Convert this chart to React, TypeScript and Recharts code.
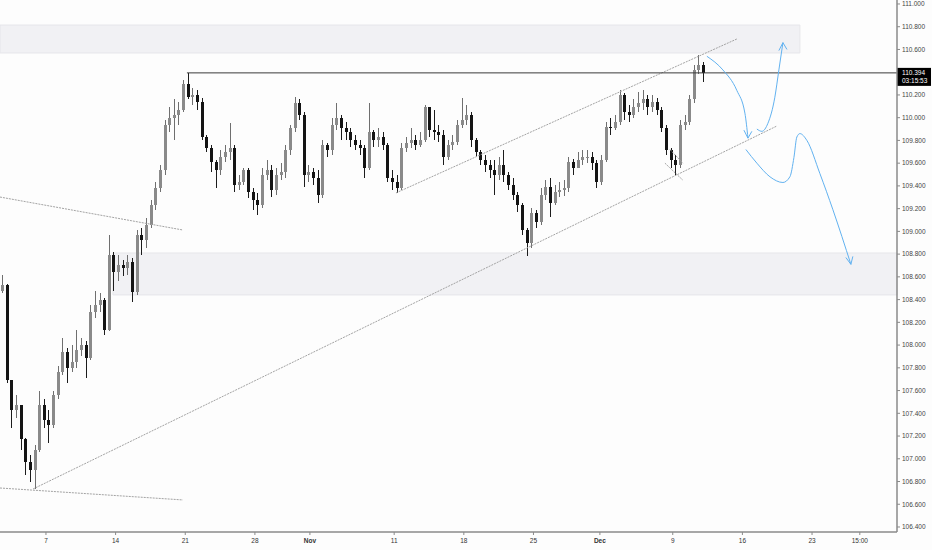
import React from 'react';
import {
  ComposedChart,
  Bar,
  Line,
  XAxis,
  YAxis,
  ReferenceArea,
  ReferenceLine,
} from 'recharts';

// x axis is counted in trading days from Oct 7, three candles per day
const FIRST_DAY = -3.15;
const BARS_PER_DAY = 3;
const FIRST_OPEN = 108.48;

const highs = [
  108.62, 108.54, 107.69, 107.56, 107.47, 107.18, 107.03, 107.12, 107.6, 107.53,
  107.43, 107.6, 107.82, 108.06, 107.97, 108.0, 108.13, 108.06, 108.04, 108.35,
  108.48, 108.46, 108.41, 108.97, 108.82, 108.79, 108.75, 108.79, 108.77, 109.01,
  109.03, 109.12, 109.28, 109.43, 109.58, 109.98, 110.09, 110.16, 110.14, 110.33,
  110.39, 110.26, 110.24, 110.17, 109.85, 109.76, 109.63, 109.72, 109.76, 109.95,
  109.76, 109.5, 109.56, 109.56, 109.38, 109.34, 109.56, 109.63, 109.58, 109.56,
  109.6, 109.76, 109.94, 110.18, 110.16, 110.05, 109.58, 109.56, 109.54, 109.8,
  109.78, 110.0, 110.13, 110.02, 109.96, 109.91, 109.85, 109.8, 109.76, 110.13,
  109.89, 109.91, 109.87, 109.78, 109.54, 109.5, 109.78, 109.83, 109.91, 109.85,
  109.87, 110.11, 110.09, 110.07, 109.94, 109.89, 109.8, 109.85, 109.98, 110.17,
  110.11, 110.05, 109.82, 109.72, 109.67, 109.63, 109.63, 109.65, 109.72, 109.52,
  109.47, 109.35, 109.25, 109.03, 109.21, 109.19, 109.38, 109.45, 109.47, 109.41,
  109.43, 109.45, 109.65, 109.64, 109.7, 109.72, 109.72, 109.7, 109.63, 109.67,
  109.96, 110.0, 110.02, 110.24, 110.22, 110.11, 110.16, 110.23, 110.24, 110.2,
  110.2, 110.17, 110.09, 109.94, 109.73, 109.67, 109.98, 110.02, 110.2, 110.46,
  110.55, 110.49,
];

const lows = [
  108.46, 107.67, 107.27, 107.36, 107.08, 106.86, 106.8, 106.73, 107.06, 107.27,
  107.14, 107.27, 107.53, 107.74, 107.67, 107.76, 107.8, 107.9, 107.71, 107.87,
  108.24, 108.29, 108.09, 108.12, 108.48, 108.56, 108.61, 108.62, 108.38, 108.44,
  108.79, 108.85, 109.03, 109.19, 109.35, 109.5, 109.87, 109.8, 109.94, 110.05,
  110.16, 110.11, 110.07, 109.8, 109.7, 109.52, 109.38, 109.5, 109.61, 109.63,
  109.35, 109.36, 109.41, 109.29, 109.19, 109.14, 109.21, 109.45, 109.3, 109.32,
  109.45, 109.47, 109.67, 109.87, 109.98, 109.39, 109.43, 109.41, 109.25, 109.29,
  109.65, 109.67, 109.89, 109.8, 109.8, 109.74, 109.72, 109.67, 109.47, 109.54,
  109.74, 109.74, 109.72, 109.43, 109.36, 109.34, 109.36, 109.7, 109.73, 109.72,
  109.74, 109.79, 109.83, 109.8, 109.79, 109.58, 109.63, 109.72, 109.76, 109.91,
  109.94, 109.74, 109.65, 109.58, 109.52, 109.47, 109.32, 109.45, 109.43, 109.36,
  109.28, 109.17, 108.97, 108.78, 108.85, 109.03, 109.06, 109.28, 109.13, 109.23,
  109.3, 109.31, 109.35, 109.5, 109.56, 109.58, 109.6, 109.54, 109.38, 109.41,
  109.61, 109.85, 109.89, 109.94, 109.98, 109.96, 110.0, 110.05, 110.07, 110.02,
  110.05, 110.02, 109.87, 109.67, 109.56, 109.5, 109.56, 109.89, 109.94, 110.13,
  110.38, 110.31,
];

const closes = [
  108.53, 107.69, 107.43, 107.47, 107.17, 106.97, 106.9, 107.08, 107.47, 107.34,
  107.3, 107.56, 107.76, 107.94, 107.8, 107.85, 107.96, 108.0, 107.89, 108.29,
  108.35, 108.4, 108.13, 108.79, 108.64, 108.7, 108.68, 108.73, 108.47, 108.97,
  108.92, 109.06, 109.23, 109.38, 109.54, 109.94, 110.0, 110.02, 110.07, 110.3,
  110.18, 110.2, 110.14, 109.83, 109.73, 109.61, 109.54, 109.65, 109.7, 109.73,
  109.41, 109.43, 109.54, 109.35, 109.28, 109.23, 109.5, 109.54, 109.36, 109.5,
  109.52, 109.72, 109.91, 110.13, 110.02, 109.5, 109.52, 109.47, 109.32, 109.76,
  109.72, 109.94, 110.0, 109.91, 109.87, 109.8, 109.76, 109.73, 109.56, 109.87,
  109.8, 109.83, 109.76, 109.47, 109.43, 109.38, 109.73, 109.78, 109.8, 109.76,
  109.8, 110.09, 109.89, 109.87, 109.85, 109.65, 109.76, 109.79, 109.94, 109.98,
  110.02, 109.8, 109.7, 109.63, 109.58, 109.54, 109.5, 109.58, 109.5, 109.41,
  109.32, 109.23, 109.01, 108.9, 109.16, 109.08, 109.32, 109.39, 109.25, 109.35,
  109.36, 109.38, 109.61, 109.56, 109.63, 109.65, 109.65, 109.6, 109.43, 109.63,
  109.92, 109.91, 109.96, 110.2, 110.05, 110.02, 110.09, 110.13, 110.16, 110.09,
  110.14, 110.07, 109.91, 109.72, 109.63, 109.58, 109.94, 109.96, 110.16, 110.42,
  110.46, 110.39,
];

const LAST_PRICE = 110.394;
const LAST_TIME = '03:15:53';

const xTickDays = [0, 5, 10, 15, 18.95, 25, 30, 35, 39.77, 45, 50, 55, 58.43];
const xTickLabels = ['7', '14', '21', '28', 'Nov', '11', '18', '25', 'Dec', '9', '16', '23', '15:00'];

const yTicks = [
  106.4, 106.6, 106.8, 107.0, 107.2, 107.4, 107.6, 107.8, 108.0, 108.2, 108.4,
  108.6, 108.8, 109.0, 109.2, 109.4, 109.6, 109.8, 110.0, 110.2, 110.6, 110.8, 111.0,
];

// drawn projections (day, price)
const pathDown = [
  { x: 47.45, p: 110.54 }, { x: 48.6, p: 110.42 }, { x: 49.6, p: 110.24 },
  { x: 50.18, p: 110.04 }, { x: 50.4, p: 109.82 },
];
const pathUp = [
  { x: 51.04, p: 109.9 }, { x: 51.4, p: 109.88 }, { x: 51.83, p: 109.95 },
  { x: 52.33, p: 110.18 }, { x: 52.62, p: 110.42 }, { x: 52.91, p: 110.66 },
];
const pathBreak = [
  { x: 50.25, p: 109.72 }, { x: 51.04, p: 109.6 }, { x: 51.98, p: 109.48 },
  { x: 52.91, p: 109.43 }, { x: 53.41, p: 109.48 }, { x: 53.7, p: 109.65 },
  { x: 53.91, p: 109.83 }, { x: 54.13, p: 109.86 }, { x: 54.63, p: 109.8 },
  { x: 55.56, p: 109.51 }, { x: 56.5, p: 109.19 }, { x: 57.79, p: 108.71 },
];

const X_DOMAIN: [number, number] = [-3.3, 61.1];
const Y_DOMAIN: [number, number] = [106.356, 111.035];

const candles = closes.map((close, i) => ({
  x: FIRST_DAY + i / BARS_PER_DAY,
  open: i === 0 ? FIRST_OPEN : closes[i - 1],
  close,
  high: highs[i],
  low: lows[i],
  range: [lows[i], highs[i]],
}));

const FONT = '"Liberation Sans", Arial, sans-serif';
const BLUE = '#62b2f0';
const TREND = '#a3a3a3';

const Candle = (props: any) => {
  const { x, y, width, height, payload } = props;
  if (!payload) return null;
  const { open, close, high, low } = payload;
  const up = close >= open;
  const k = height / (high - low || 1);
  const at = (v: number) => y + (high - v) * k;
  const top = at(Math.max(open, close));
  const bottom = at(Math.min(open, close));
  const cx = Math.round(x + width / 2) + 0.5;
  return (
    <g shapeRendering="crispEdges">
      <line x1={cx} x2={cx} y1={y} y2={y + height} stroke={up ? '#6f6f6f' : '#1c1c1c'} />
      <rect
        x={cx - 1.5}
        y={top}
        width={3}
        height={Math.max(1, bottom - top)}
        fill={up ? '#8a8a8a' : '#141414'}
      />
    </g>
  );
};

const DateTick = (props: any) => {
  const { x, y, payload } = props;
  const i = xTickDays.indexOf(payload.value);
  const label = i >= 0 ? xTickLabels[i] : '';
  const bold = label === 'Nov' || label === 'Dec';
  return (
    <text x={x} y={y + 6} textAnchor="middle" fontSize={6.5} fontFamily={FONT} fontWeight={bold ? 700 : 400} fill="#333">
      {label}
    </text>
  );
};

const PriceTag = (props: any) => {
  const vb = props.viewBox || {};
  const left = (vb.x ?? 0) + (vb.width ?? 0);
  const cy = vb.y ?? 0;
  return (
    <g>
      <rect x={left} y={cy - 5} width={34} height={18} fill="#000" />
      <text x={left + 5} y={cy + 2} fontSize={6.5} fontFamily={FONT} fill="#fff">
        {LAST_PRICE.toFixed(3)}
      </text>
      <text x={left + 5} y={cy + 10.5} fontSize={6.5} fontFamily={FONT} fill="#fff">
        {LAST_TIME}
      </text>
    </g>
  );
};

const seg = (x1: number, p1: number, x2: number, p2: number) => [
  { x: x1, y: p1 },
  { x: x2, y: p2 },
];

const curve = (data: { x: number; p: number }[]) => (
  <Line
    data={data}
    dataKey="p"
    type="monotone"
    stroke={BLUE}
    strokeWidth={1}
    dot={false}
    activeDot={false}
    legendType="none"
    isAnimationActive={false}
  />
);

export default function App() {
  return (
    <div style={{ position: 'absolute', left: 0, top: 0, width: 932, height: 550, background: '#fdfdfd' }}>
      <ComposedChart
        width={932}
        height={550}
        data={candles}
        margin={{ top: 0, right: 0, bottom: 0, left: 0 }}
      >
        <XAxis
          dataKey="x"
          type="number"
          domain={X_DOMAIN}
          allowDataOverflow
          ticks={xTickDays}
          interval={0}
          tick={<DateTick />}
          height={18}
          tickSize={3}
          tickMargin={2}
          axisLine={{ stroke: '#8a8a8a', strokeWidth: 1.5 }}
          tickLine={{ stroke: '#8a8a8a' }}
        />
        <YAxis
          orientation="right"
          type="number"
          domain={Y_DOMAIN}
          allowDataOverflow
          ticks={yTicks}
          interval={0}
          width={35}
          tickSize={3}
          tickMargin={2}
          tickFormatter={(v: number) => v.toFixed(3)}
          tick={{ fontSize: 6.5, fill: '#444', fontFamily: FONT, textAnchor: 'start' }}
          axisLine={{ stroke: '#8a8a8a', strokeWidth: 1.5 }}
          tickLine={{ stroke: '#8a8a8a' }}
        />

        <ReferenceArea x1={-3.3} x2={54.13} y1={110.569} y2={110.815} fill="#f1f1f4" fillOpacity={1} stroke="#e6e6ea" ifOverflow="visible" />
        <ReferenceArea x1={4.81} x2={61.1} y1={108.441} y2={108.81} fill="#f1f1f4" fillOpacity={1} stroke="#e6e6ea" ifOverflow="visible" />

        <ReferenceLine segment={seg(-3.3, 109.302, 9.83, 109.012)} stroke={TREND} strokeDasharray="2 1" ifOverflow="visible" />
        <ReferenceLine segment={seg(-3.3, 106.743, 9.83, 106.638)} stroke={TREND} strokeDasharray="2 1" ifOverflow="visible" />
        <ReferenceLine segment={seg(-0.93, 106.734, 52.48, 109.927)} stroke={TREND} strokeDasharray="2 1" ifOverflow="visible" />
        <ReferenceLine segment={seg(25.13, 109.338, 49.6, 110.692)} stroke={TREND} strokeDasharray="2 1" ifOverflow="visible" />
        <ReferenceLine segment={seg(44.44, 109.6, 45.73, 109.45)} stroke={TREND} strokeDasharray="2 1" ifOverflow="visible" />
        <ReferenceLine segment={seg(44.8, 109.72, 45.73, 109.6)} stroke={TREND} strokeDasharray="2 1" ifOverflow="visible" />
        <ReferenceLine
          segment={seg(10.12, LAST_PRICE, 61.1, LAST_PRICE)}
          stroke="#3a3a3a"
          ifOverflow="visible"
          label={<PriceTag />}
        />

        <Bar dataKey="range" barSize={3} shape={(p: any) => <Candle {...p} />} isAnimationActive={false} />

        {curve(pathDown)}
        {curve(pathUp)}
        {curve(pathBreak)}

        {/* arrow heads */}
        <ReferenceLine segment={seg(50.11, 109.89, 50.4, 109.82)} stroke={BLUE} ifOverflow="visible" />
        <ReferenceLine segment={seg(50.68, 109.88, 50.4, 109.82)} stroke={BLUE} ifOverflow="visible" />
        <ReferenceLine segment={seg(52.62, 110.59, 52.91, 110.66)} stroke={BLUE} ifOverflow="visible" />
        <ReferenceLine segment={seg(53.2, 110.6, 52.91, 110.66)} stroke={BLUE} ifOverflow="visible" />
        <ReferenceLine segment={seg(57.43, 108.77, 57.79, 108.71)} stroke={BLUE} ifOverflow="visible" />
        <ReferenceLine segment={seg(57.93, 108.78, 57.79, 108.71)} stroke={BLUE} ifOverflow="visible" />
      </ComposedChart>
    </div>
  );
}
